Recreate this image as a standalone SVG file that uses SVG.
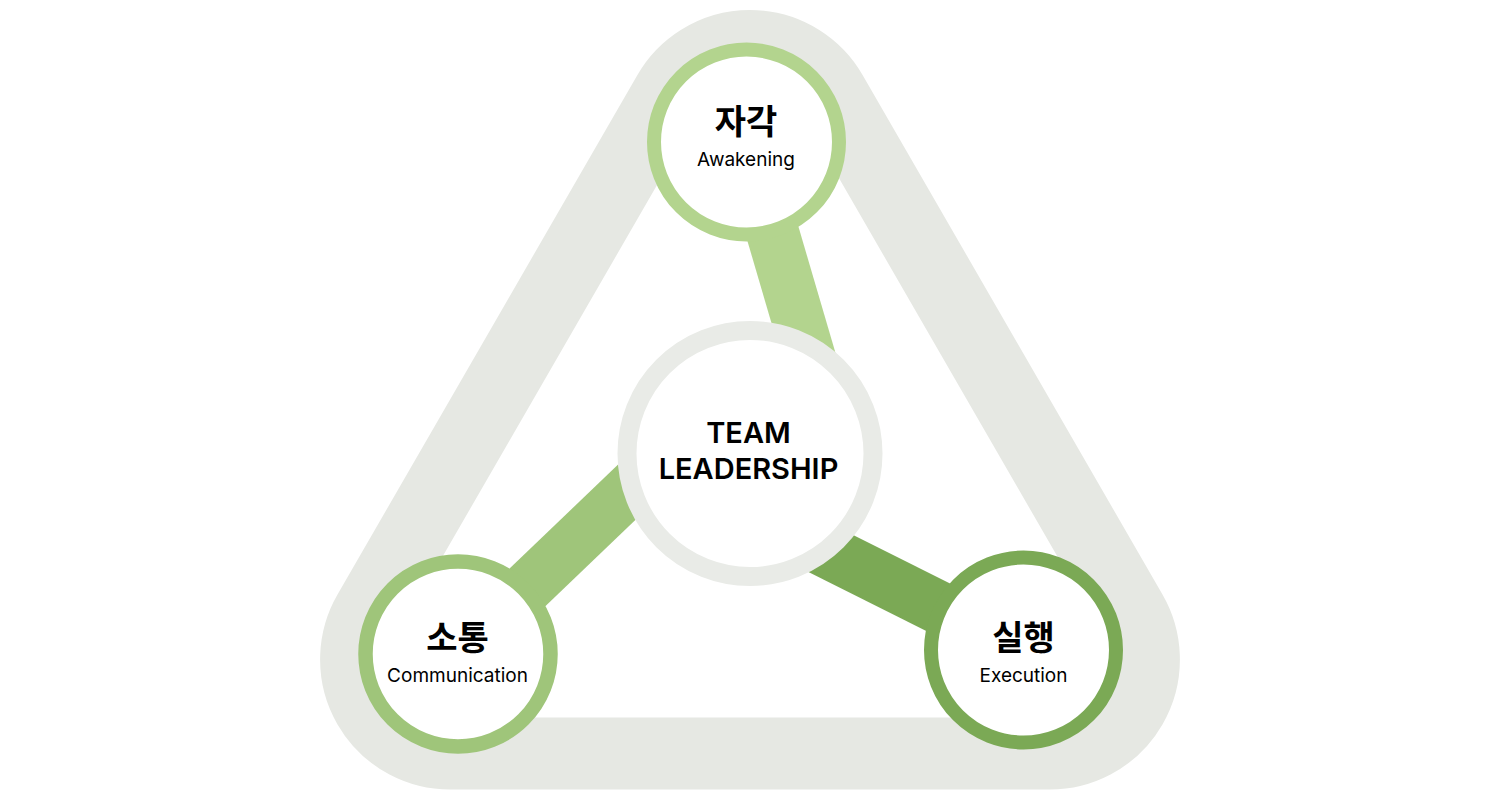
<svg xmlns="http://www.w3.org/2000/svg" width="1500" height="800" viewBox="0 0 1500 800">
  <style>
    .ring{fill:#FFFFFF;}
    .ko{font-family:Inter,"Noto Sans CJK KR",sans-serif;font-weight:700;font-size:34px;fill:#000000;text-anchor:middle;}
    .en{font-family:Inter,"Noto Sans CJK KR",sans-serif;font-weight:400;font-size:19px;fill:#000000;text-anchor:middle;}
    .ctr{font-family:Inter,"Liberation Sans",sans-serif;font-weight:600;font-size:29px;fill:#000000;text-anchor:middle;}
  </style>
  <rect width="1500" height="800" fill="#FFFFFF"/>
  <g id="frame">
    <path d="M 668.6 93 A 94 94 0 0 1 831.4 93 L 1131.3 612.5 A 94 94 0 0 1 1049.9 753.5 L 450.1 753.5 A 94 94 0 0 1 368.7 612.5 Z" fill="none" stroke="#E6E8E3" stroke-width="72"/>
  </g>
  <g id="connectors">
    <line x1="746" y1="142" x2="834" y2="442" stroke="#B3D48E" stroke-width="53"/>
    <line x1="458" y1="654" x2="700" y2="422" stroke="#9FC57A" stroke-width="52"/>
    <line x1="1023.5" y1="650" x2="760" y2="518" stroke="#7BA955" stroke-width="53"/>
  </g>
  <g id="node-center">
    <circle class="ring" cx="750" cy="453.5" r="123" stroke="#E9EBE7" stroke-width="19"/>
    <text class="ctr" x="748.5" y="443">TEAM</text>
    <text class="ctr" x="748.5" y="479">LEADERSHIP</text>
  </g>
  <g id="node-awakening">
    <circle class="ring" cx="746.5" cy="142" r="92.5" stroke="#B3D48E" stroke-width="14"/>
    <text class="ko" x="746" y="134">자각</text>
    <text class="en" x="746" y="166">Awakening</text>
  </g>
  <g id="node-communication">
    <circle class="ring" cx="458" cy="654" r="92.5" stroke="#9FC57A" stroke-width="14.5"/>
    <text class="ko" x="457.5" y="650">소통</text>
    <text class="en" x="457.5" y="682">Communication</text>
  </g>
  <g id="node-execution">
    <circle class="ring" cx="1023.5" cy="650" r="92.5" stroke="#7BA955" stroke-width="14"/>
    <text class="ko" x="1023.5" y="650">실행</text>
    <text class="en" x="1023.5" y="682">Execution</text>
  </g>
</svg>
